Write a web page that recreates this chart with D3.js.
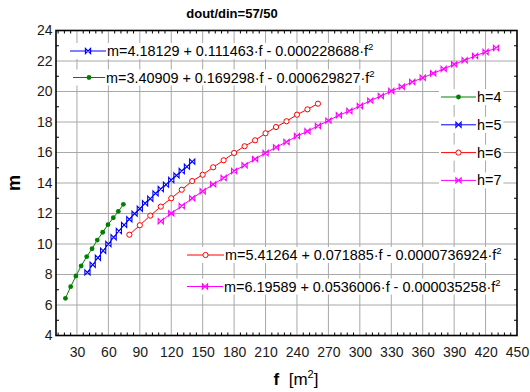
<!DOCTYPE html>
<html>
<head>
<meta charset="utf-8">
<script src="https://cdn.jsdelivr.net/npm/d3@7"></script>
<style>
    body { margin: 0; background: #fff; }
    text { font-family: "Liberation Sans", Arial, sans-serif; fill: #000; }
    .grid line { stroke: #a8a8a8; stroke-width: 1; }
    .axis path { display: none; }
    .axis line { display: none; }
    .axis text { font-size: 14px; fill: #1a1a1a; }
</style>
</head>
<body>
<div id="chart"></div>
<script>

// fitted points, f in m^2 and m
const fGreen = [19, 24, 29, 34, 39.3, 44.4, 49.4, 54.6, 59.6, 64.7, 69.5, 74.3];
const mGreen = [6.44, 7.20, 7.90, 8.56, 9.17, 9.69, 10.26, 10.77, 11.27, 11.72, 12.14, 12.60];

const fBlue = [40, 45, 50, 55, 60, 65, 70, 75, 80, 85, 90, 95, 100, 105, 110, 115, 120, 125, 130, 135, 140];
const mBlue = [8.14, 8.64, 9.10, 9.56, 10.00, 10.44, 10.85, 11.25, 11.62, 11.99, 12.31, 12.67, 12.97, 13.32,
    13.61, 13.89, 14.20, 14.50, 14.79, 15.07, 15.40];

const fRed = [80, 90, 100, 110, 120, 130, 140, 150, 160, 170, 180, 190, 200, 210, 220, 230, 240, 250, 260];
const mRed = [10.61, 11.23, 11.86, 12.45, 13.00, 13.56, 14.13, 14.54, 15.03, 15.49, 15.97, 16.41, 16.80, 17.26,
    17.67, 18.05, 18.48, 18.83, 19.20];

const fMagenta = [110, 120, 130, 140, 150, 160, 170, 180, 190, 200, 210, 220, 230, 240, 250, 260, 270, 280,
    290, 300, 310, 320, 330, 340, 350, 360, 370, 380, 390, 400, 410, 420, 430];
const mMagenta = [11.49, 12.01, 12.49, 13.00, 13.46, 13.91, 14.33, 14.79, 15.16, 15.57, 15.97, 16.34, 16.69,
    17.08, 17.39, 17.74, 18.09, 18.44, 18.72, 19.05, 19.40, 19.70, 20.03, 20.31, 20.62, 20.90, 21.19, 21.48,
    21.78, 22.05, 22.33, 22.59, 22.85];

const seriesNames = ["h=4", "h=5", "h=6", "h=7"];
const seriesColors = ["#008000", "#0000ff", "#ff0000", "#ff00ff"];
const seriesMarkers = ["dot", "bowtie", "circle", "bowtie"];

// fit equations: [series index, constant, linear, quadratic]
const fitSeries = [1, 0, 2, 3];
const fitA = ["4.18129", "3.40909", "5.41264", "6.19589"];
const fitB = ["0.111463", "0.169298", "0.071885", "0.0536006"];
const fitC = ["0.000228688", "0.000629827", "0.0000736924", "0.000035258"];

const xTicks = [30, 60, 90, 120, 150, 180, 210, 240, 270, 300, 330, 360, 390, 420, 450];
const yTicks = [4, 6, 8, 10, 12, 14, 16, 18, 20, 22, 24];

const chartTitle = "dout/din=57/50";


class FitChart {

    constructor(parentElement) {
        this.parentElement = parentElement;
        this.series = [
            {f: fGreen, m: mGreen},
            {f: fBlue, m: mBlue},
            {f: fRed, m: mRed},
            {f: fMagenta, m: mMagenta}
        ];
        this.initVis();
    }

    initVis() {
        let vis = this;

        vis.margin = {top: 30.5, right: 13, bottom: 56.5, left: 56};
        vis.width = 530 - vis.margin.left - vis.margin.right;
        vis.height = 392 - vis.margin.top - vis.margin.bottom;

        vis.root = d3.select("#" + vis.parentElement).append("svg")
            .attr("width", 530)
            .attr("height", 392);

        vis.svg = vis.root.append("g")
            .attr("transform", "translate(" + vis.margin.left + "," + vis.margin.top + ")");

        vis.x = d3.scaleLinear().domain([10, 450]).range([0, vis.width]);
        vis.y = d3.scaleLinear().domain([4, 24]).range([vis.height, 0]);

        // grid
        vis.svg.append("g").attr("class", "grid")
            .selectAll("line.gx").data(xTicks.slice(0, -1)).enter().append("line")
            .attr("x1", d => vis.x(d)).attr("x2", d => vis.x(d))
            .attr("y1", 0).attr("y2", vis.height);
        vis.svg.append("g").attr("class", "grid")
            .selectAll("line.gy").data(yTicks.slice(1, -1)).enter().append("line")
            .attr("y1", d => vis.y(d)).attr("y2", d => vis.y(d))
            .attr("x1", 0).attr("x2", vis.width);

        // minor ticks, inward
        let minorX = d3.range(12, 450, 6).filter(d => d % 30 !== 0);
        let minorY = d3.range(5, 24, 2);
        let ticks = vis.svg.append("g").attr("stroke", "#000").attr("stroke-width", 1);
        ticks.selectAll("line.mxb").data(minorX).enter().append("line")
            .attr("x1", d => vis.x(d)).attr("x2", d => vis.x(d))
            .attr("y1", vis.height).attr("y2", vis.height - 3);
        ticks.selectAll("line.mxt").data(minorX).enter().append("line")
            .attr("x1", d => vis.x(d)).attr("x2", d => vis.x(d))
            .attr("y1", 0).attr("y2", 3);
        ticks.selectAll("line.myl").data(minorY).enter().append("line")
            .attr("y1", d => vis.y(d)).attr("y2", d => vis.y(d))
            .attr("x1", 0).attr("x2", 3);
        ticks.selectAll("line.myr").data(minorY).enter().append("line")
            .attr("y1", d => vis.y(d)).attr("y2", d => vis.y(d))
            .attr("x1", vis.width).attr("x2", vis.width - 3);

        // axes
        vis.svg.append("g").attr("class", "axis")
            .attr("transform", "translate(0," + vis.height + ")")
            .call(d3.axisBottom(vis.x).tickValues(xTicks).tickSize(0).tickPadding(11.5));
        vis.svg.append("g").attr("class", "axis")
            .call(d3.axisLeft(vis.y).tickValues(yTicks).tickSize(0).tickPadding(3.5));

        vis.wrangleData();
    }

    wrangleData() {
        let vis = this;
        vis.displayData = vis.series.map((s, i) => ({
            name: seriesNames[i],
            color: seriesColors[i],
            marker: seriesMarkers[i],
            values: s.f.map((f, j) => ({f: f, m: s.m[j]}))
        }));
        vis.updateVis();
    }

    drawMarker(sel, type, color) {
        if (type === "dot") {
            sel.append("circle").attr("r", 2.4).attr("fill", color);
        } else if (type === "circle") {
            sel.append("circle").attr("r", 2.6).attr("fill", "#fff")
                .attr("stroke", color).attr("stroke-width", 1);
        } else {
            sel.append("path").attr("d", "M-2.6,-2.6L2.6,2.6L2.6,-2.6L-2.6,2.6Z")
                .attr("fill", "none").attr("stroke", color).attr("stroke-width", 1.1);
        }
    }

    // legend sample: short line with a marker in the middle, white box behind
    legendItem(x0, x1, yy, s, size, parts) {
        let vis = this;
        let g = vis.root.append("g");
        let box = g.append("rect").attr("fill", "#fff");
        g.append("line").attr("x1", x0).attr("x2", x1).attr("y1", yy).attr("y2", yy)
            .attr("stroke", s.color).attr("stroke-width", 1);
        let mk = g.append("g").attr("transform", "translate(" + ((x0 + x1) / 2) + "," + yy + ")");
        vis.drawMarker(mk, s.marker, s.color);
        let t = g.append("text").attr("x", x1 + 1).attr("y", yy + 5).attr("font-size", size);
        parts(t);
        let w = t.node().getComputedTextLength();
        box.attr("x", x0 - 2).attr("y", yy - 8).attr("width", x1 + 1 + w - x0 + 4).attr("height", 16);
    }

    updateVis() {
        let vis = this;

        let line = d3.line().x(d => vis.x(d.f)).y(d => vis.y(d.m));

        let groups = vis.svg.selectAll(".series").data(vis.displayData).enter()
            .append("g").attr("class", "series");

        groups.append("path")
            .attr("d", d => line(d.values))
            .attr("fill", "none")
            .attr("stroke", d => d.color)
            .attr("stroke-width", 1);

        groups.each(function (s) {
            d3.select(this).selectAll(".pt").data(s.values).enter()
                .append("g").attr("class", "pt")
                .attr("transform", d => "translate(" + vis.x(d.f) + "," + vis.y(d.m) + ")")
                .each(function () { vis.drawMarker(d3.select(this), s.marker, s.color); });
        });

        // frame
        vis.svg.append("rect")
            .attr("width", vis.width).attr("height", vis.height)
            .attr("fill", "none").attr("stroke", "#000").attr("stroke-width", 1.6);

        // fit equations
        let eqPos = [[70, 106, 51], [73, 105, 77.5], [187, 224, 255], [187, 223, 286.5]];
        fitSeries.forEach((si, k) => {
            let p = eqPos[k];
            vis.legendItem(p[0], p[1], p[2], vis.displayData[si], 14.4, t => {
                t.append("tspan").text("m=" + fitA[k] + " + " + fitB[k] + "\u00b7f - " + fitC[k] + "\u00b7f");
                t.append("tspan").attr("dy", -6).attr("font-size", 9.5).text("2");
            });
        });

        // series legend
        vis.displayData.forEach((s, i) => {
            vis.legendItem(441, 476, 97 + i * 27.8, s, 14.4, t => t.text(s.name));
        });

        // titles
        vis.root.append("text")
            .attr("x", 232).attr("y", 18)
            .attr("text-anchor", "middle")
            .attr("font-size", 13).attr("font-weight", "bold")
            .text(chartTitle);

        vis.root.append("text")
            .attr("transform", "translate(20,183) rotate(-90)")
            .attr("text-anchor", "middle")
            .attr("font-size", 18).attr("font-weight", "bold")
            .text("m");

        let xl = vis.root.append("text")
            .attr("x", 296).attr("y", 385)
            .attr("text-anchor", "middle")
            .attr("font-size", 17);
        xl.append("tspan").attr("font-weight", "bold").text("f");
        xl.append("tspan").text("\u00a0\u00a0[m");
        xl.append("tspan").attr("dy", -7).attr("font-size", 11).text("2");
        xl.append("tspan").attr("dy", 7).text("]");
    }
}

new FitChart("chart");

</script>
</body>
</html>
